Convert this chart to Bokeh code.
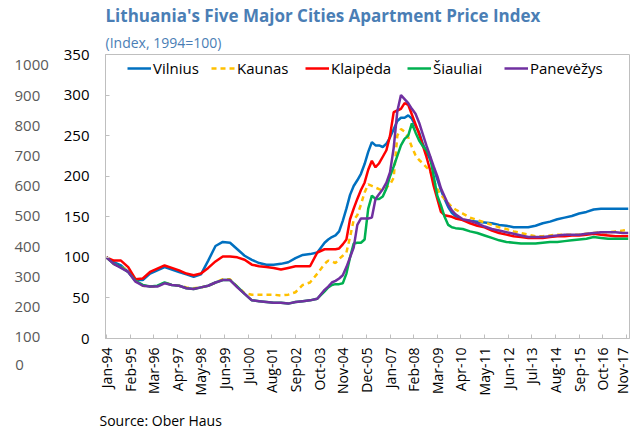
from math import pi
from bokeh.plotting import figure
from bokeh.models import Range1d, FixedTicker, Legend, LegendItem, Title, ColumnDataSource
from bokeh.layouts import row
from bokeh.embed import file_html
from bokeh.resources import INLINE

# ---------------- data (month offsets from Jan-1994) ----------------
months = [0, 4, 8, 12, 16, 20, 24, 28, 32, 36, 40, 44, 48, 52, 56, 60, 64, 68, 72, 76,
          80, 84, 88, 92, 96, 100, 104, 108, 112, 116, 120,
          122, 124, 126, 128, 130, 132, 134, 136, 138, 140, 142, 144, 146, 148, 150, 152,
          154, 156, 158, 160, 162, 164, 166, 168, 170, 172, 174, 176, 178, 180, 182, 184,
          186, 188, 190, 192,
          196, 200, 204, 208, 212, 216, 220, 224, 228, 232, 236, 240, 244, 248, 252, 256,
          260, 264, 268, 272, 276, 280, 284, 287]

vilnius = [100, 94, 90, 82, 72, 72, 80, 84, 88, 85, 82, 79, 76, 79, 96, 114, 119, 118, 110, 102,
           97, 93, 91, 91, 92, 94, 99, 103, 104, 106, 118,
           122, 125, 127, 132, 145, 160, 177, 188, 195, 203, 215, 230, 242, 238, 238, 236,
           240, 248, 258, 268, 272, 272, 275, 271, 262, 254, 240, 230, 221, 210, 196, 183,
           172, 162, 155, 151,
           146, 145, 144, 143, 142, 140, 139, 137, 137, 137, 139, 142, 144, 147, 149, 151,
           154, 156, 159, 160, 160, 160, 160, 160]

kaunas = [100, 92, 88, 84, 71, 65, 64, 64, 69, 66, 65, 63, 62, 63, 65, 69, 73, 73, 64, 56,
          54, 54, 54, 54, 53, 54, 57, 66, 69, 80, 92,
          96, 95, 93, 98, 102, 106, 125, 146, 152, 165, 180, 190, 188, 186, 184, 183,
          186, 190, 198, 250, 258, 255, 248, 236, 226, 220, 216, 211, 207, 195, 184, 177,
          172, 167, 162, 159,
          154, 149, 146, 143, 140, 137, 135, 132, 130, 128, 126, 126, 127, 128, 128, 128,
          128, 129, 130, 131, 131, 132, 133, 134]

klaipeda = [100, 96, 96, 88, 73, 74, 82, 86, 90, 87, 84, 80, 78, 80, 87, 95, 101, 101, 100, 97,
            91, 89, 88, 87, 85, 87, 89, 89, 89, 106, 110,
            110, 110, 110, 111, 116, 122, 147, 160, 172, 183, 192, 208, 219, 211, 216, 224,
            232, 250, 279, 281, 283, 290, 288, 276, 264, 252, 238, 224, 208, 188, 172, 156,
            152, 151, 150, 148,
            146, 142, 139, 137, 133, 130, 128, 126, 125, 124, 124, 124, 125, 126, 126, 127,
            127, 128, 129, 128, 127, 126, 126, 126]

siauliai = [100, 92, 88, 82, 71, 66, 64, 65, 69, 66, 65, 62, 61, 63, 65, 69, 72, 72, 64, 55,
            47, 46, 45, 44, 44, 43, 45, 46, 47, 49, 58,
            63, 66, 67, 67, 68, 80, 100, 117, 118, 118, 122, 160, 176, 172, 172, 175,
            185, 200, 212, 225, 238, 246, 250, 265, 254, 244, 237, 232, 224, 200, 176, 164,
            150, 140, 137, 136,
            135, 132, 130, 127, 124, 121, 119, 118, 117, 117, 117, 118, 119, 119, 120, 121,
            122, 123, 125, 124, 123, 123, 123, 123]

panevezys = [100, 92, 87, 82, 70, 65, 64, 64, 68, 66, 65, 62, 61, 63, 65, 69, 72, 72, 63, 55,
             47, 46, 45, 44, 44, 43, 45, 46, 47, 49, 60,
             64, 69, 71, 74, 78, 88, 100, 112, 140, 148, 148, 148, 149, 172, 178, 184,
             192, 205, 235, 280, 300, 295, 290, 283, 277, 266, 252, 238, 225, 212, 200, 185,
             175, 165, 158, 153,
             147, 145, 142, 138, 135, 133, 131, 129, 127, 125, 125, 125, 126, 127, 128, 128,
             128, 129, 130, 131, 131, 131, 130, 130]

series_names = ["Vilnius", "Kaunas", "Klaipėda", "Šiauliai", "Panevėžys"]
series_values = [vilnius, kaunas, klaipeda, siauliai, panevezys]
series_colors = ["#0070C0", "#FFC000", "#FF0000", "#00B050", "#7030A0"]
series_dash = ["solid", "5 4", "solid", "solid", "solid"]
legend_x = [22, 106, 200, 302, 399]   # legend entry offsets from the plot's left edge (px)

tick_months = [0, 13, 26, 39, 52, 65, 78, 91, 104, 117, 130, 143, 156, 169, 182, 195,
               208, 221, 234, 247, 260, 273, 286]
tick_labels = ["Jan-94", "Feb-95", "Mar-96", "Apr-97", "May-98", "Jun-99", "Jul-00",
               "Aug-01", "Sep-02", "Oct-03", "Nov-04", "Dec-05", "Jan-07", "Feb-08",
               "Mar-09", "Apr-10", "May-11", "Jun-12", "Jul-13", "Aug-14", "Sep-15",
               "Oct-16", "Nov-17"]
y_ticks = [0, 50, 100, 150, 200, 250, 300, 350]
outer_ticks = [100, 200, 300, 400, 500, 600, 700, 800, 900, 1000]
outer_zero = "0"

TITLE = "Lithuania's Five Major Cities Apartment Price Index"
SUBTITLE = "(Index, 1994=100)"
SOURCE = "Source: Ober Haus"

FONT = "Open Sans"
BLUE = "#4A7EB5"
GRAY = "#BFBFBF"
FW, FH = 524, 284

# ---------------- main chart ----------------
p = figure(frame_width=FW, frame_height=FH, x_range=Range1d(-0.5, 287.7), y_range=Range1d(0, 350),
           output_backend="svg", toolbar_location=None,
           min_border_left=43, min_border_right=2, min_border_top=46, min_border_bottom=20)
p.xgrid.visible = False
p.ygrid.visible = False
p.outline_line_color = GRAY
p.background_fill_color = "white"
p.border_fill_color = "white"

p.title.text = TITLE
p.title.text_font = FONT
p.title.text_font_size = "17px"
p.title.text_font_style = "bold"
p.title.text_color = BLUE
p.title.align = "left"
p.title.standoff = 2
p.add_layout(Title(text=SUBTITLE, text_font=FONT, text_font_size="14px", text_font_style="normal",
                   text_color=BLUE, align="left", standoff=6), "above")

src_title = Title(text=SOURCE, text_font=FONT, text_font_size="14px", text_font_style="normal",
                  text_color="#000000", align="left", offset=-6, standoff=20)
p.add_layout(src_title, "below")

ya = p.yaxis[0]
ya.ticker = FixedTicker(ticks=y_ticks)
ya.major_label_text_font = FONT
ya.major_label_text_font_size = "15px"
ya.major_label_text_color = "#000000"
ya.major_tick_in = 4
ya.major_tick_out = 0
ya.minor_tick_line_color = None
ya.axis_line_color = GRAY
ya.major_tick_line_color = GRAY
ya.major_label_standoff = 16

xa = p.xaxis[0]
xa.ticker = FixedTicker(ticks=tick_months)
xa.major_label_overrides = {m: l for m, l in zip(tick_months, tick_labels)}
xa.major_label_orientation = pi / 2
xa.major_label_text_font = FONT
xa.major_label_text_font_size = "14px"
xa.major_label_text_color = "#000000"
xa.major_tick_in = 4
xa.major_tick_out = 0
xa.minor_tick_line_color = None
xa.axis_line_color = GRAY
xa.major_tick_line_color = GRAY
xa.major_label_standoff = 9

for name, vals, col, dash, lx in zip(series_names, series_values, series_colors, series_dash, legend_x):
    src = ColumnDataSource(dict(x=months, y=vals))
    r = p.line("x", "y", source=src, line_color=col, line_width=2.5, line_dash=dash)
    lg = Legend(items=[LegendItem(label=name, renderers=[r])], location=(lx, 260),
                label_text_font=FONT, label_text_font_size="15px", label_text_color="#000000",
                glyph_width=24, glyph_height=20, label_height=20, label_standoff=2,
                padding=0, margin=0, border_line_color=None, background_fill_alpha=0)
    p.add_layout(lg, "center")

# ---------------- outer (grey) scale ----------------
q = figure(width=60, frame_height=FH, x_range=Range1d(0, 1), y_range=Range1d(96, 1036.4),
           x_axis_location="below", y_axis_location="right",
           output_backend="svg", toolbar_location=None,
           min_border_left=17, min_border_right=41, min_border_top=46, min_border_bottom=76)
q.xgrid.visible = False
q.ygrid.visible = False
q.outline_line_color = None
q.background_fill_color = "white"
q.border_fill_color = "white"
qa = q.yaxis[0]
qa.ticker = FixedTicker(ticks=outer_ticks)
qa.major_label_text_font = FONT
qa.major_label_text_font_size = "15px"
qa.major_label_text_color = "#595959"
qa.major_tick_in = 0
qa.major_tick_out = 0
qa.minor_tick_line_color = None
qa.axis_line_color = None
qa.major_tick_line_color = None
qa.major_label_standoff = -5

qx = q.xaxis[0]
qx.ticker = FixedTicker(ticks=[1])
qx.major_label_overrides = {1: outer_zero}
qx.major_label_text_font = FONT
qx.major_label_text_font_size = "15px"
qx.major_label_text_color = "#595959"
qx.major_tick_in = 0
qx.major_tick_out = 0
qx.minor_tick_line_color = None
qx.axis_line_color = None
qx.major_tick_line_color = None
qx.major_label_standoff = 21

layout = row(q, p)
open("out.html", "w").write(file_html(layout, INLINE))
